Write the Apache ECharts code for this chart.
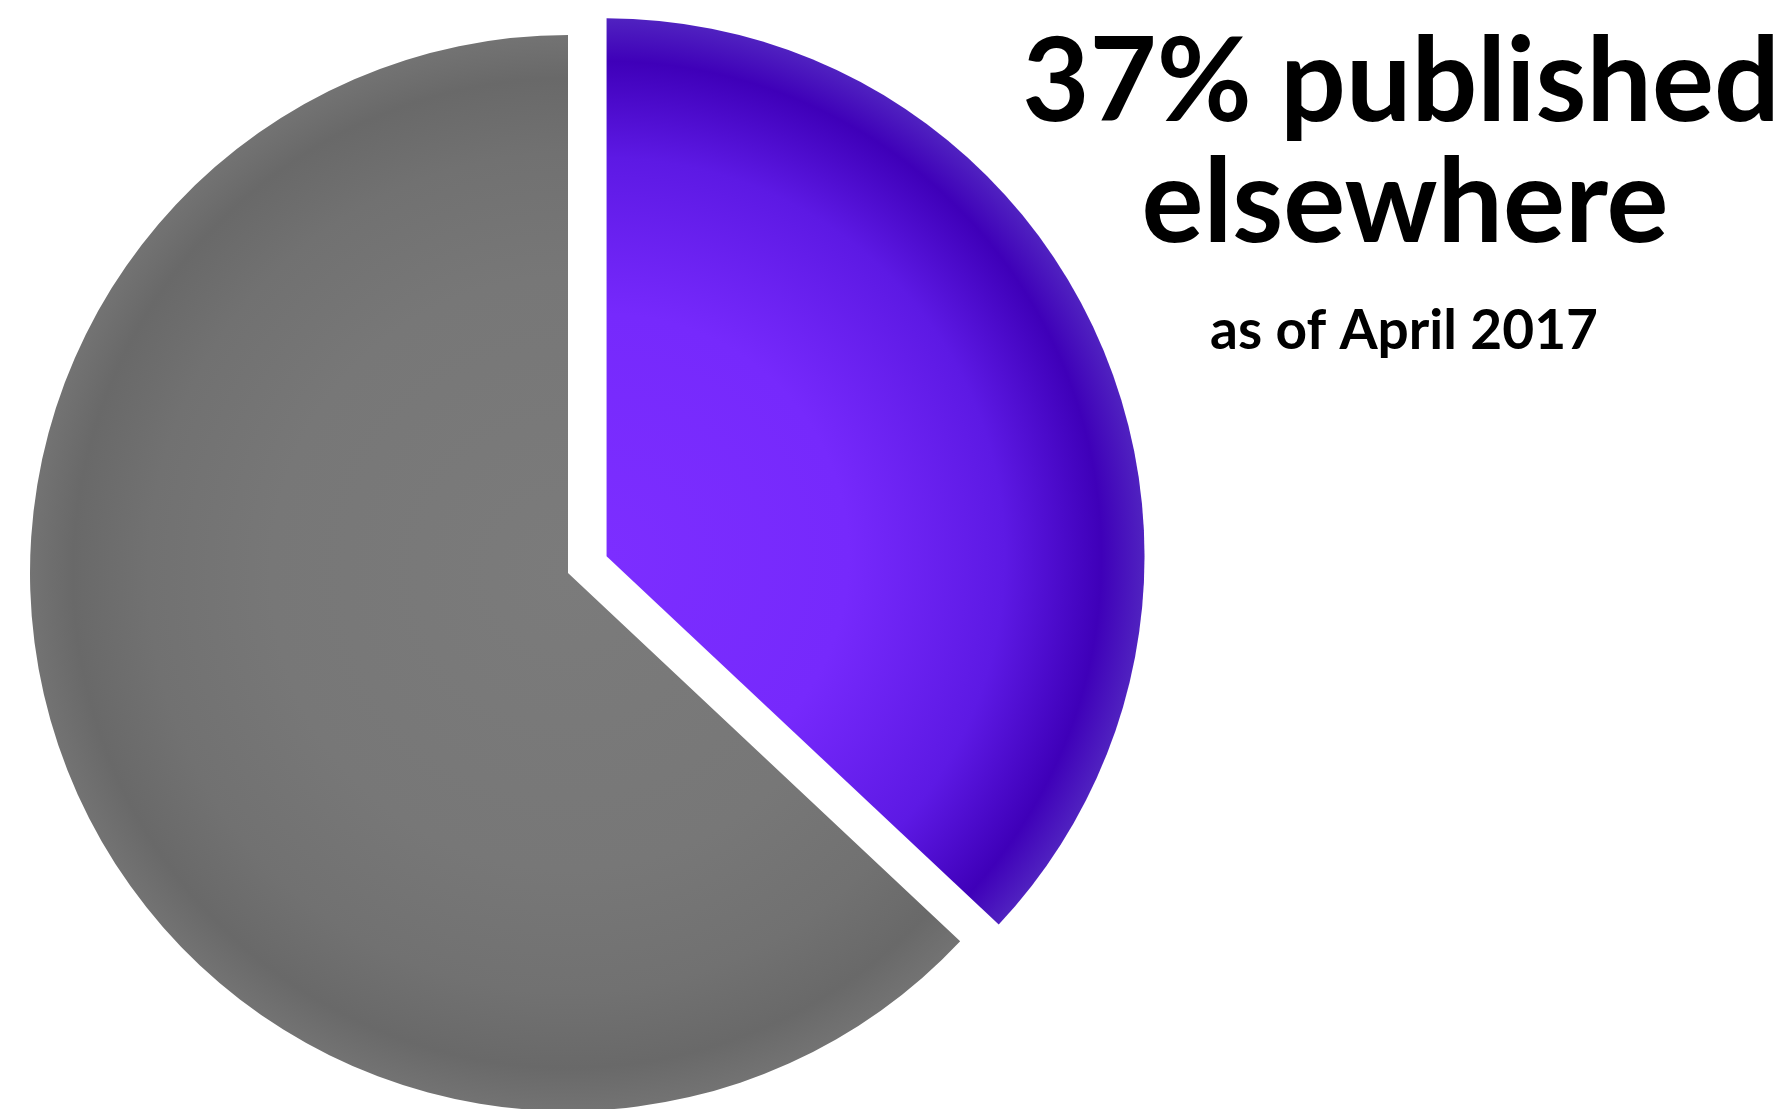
<!DOCTYPE html>
<html>
<head>
<meta charset="utf-8">
<script src="https://cdn.jsdelivr.net/npm/echarts@6/dist/echarts.min.js"></script>
<style>
html,body{margin:0;padding:0;background:#fff;}
#chart{width:1792px;height:1109px;}
</style>
</head>
<body>
<div id="chart"></div>
<script>
const categories = ['Published elsewhere', 'Not published elsewhere'];
const values = [37, 63];
const titleLines = ['37% published', 'elsewhere'];
const subtitle = 'as of April 2017';

const cx = 568, cy = 573, R = 538;
const purpleGrad = {
  type: 'radial', x: cx, y: cy, r: R, global: true,
  colorStops: [
    {offset: 0, color: '#7c2eff'},
    {offset: 0.45, color: '#7629fc'},
    {offset: 0.74, color: '#5d19e4'},
    {offset: 0.92, color: '#3f00b9'},
    {offset: 1, color: '#5022c0'}
  ]
};
const grayGrad = {
  type: 'radial', x: cx, y: cy, r: R, global: true,
  colorStops: [
    {offset: 0, color: '#7b7b7b'},
    {offset: 0.55, color: '#777777'},
    {offset: 0.78, color: '#717171'},
    {offset: 0.92, color: '#696969'},
    {offset: 1, color: '#737373'}
  ]
};
const colors = [purpleGrad, grayGrad];

const chart = echarts.init(document.getElementById('chart'), null, {renderer: 'canvas'});
chart.setOption({
  backgroundColor: '#ffffff',
  animation: false,
  series: [{
    type: 'pie',
    center: [cx, cy],
    radius: [0, R],
    startAngle: 90,
    clockwise: true,
    selectedMode: 'single',
    selectedOffset: 42,
    label: {show: false},
    labelLine: {show: false},
    emphasis: {disabled: true},
    data: categories.map((c, i) => ({
      name: c,
      value: values[i],
      selected: i === 0,
      itemStyle: {color: colors[i]}
    }))
  }],
  graphic: [
    {type: 'text', x: 1401, y: 84, style: {text: titleLines[0], font: 'bold 116px Lato', fill: '#000', textAlign: 'center', textVerticalAlign: 'middle'}},
    {type: 'text', x: 1405, y: 205, style: {text: titleLines[1], font: 'bold 116px Lato', fill: '#000', textAlign: 'center', textVerticalAlign: 'middle'}},
    {type: 'text', x: 1404, y: 331, style: {text: subtitle, font: 'bold 55px Lato', fill: '#000', textAlign: 'center', textVerticalAlign: 'middle'}}
  ]
});
</script>
</body>
</html>
